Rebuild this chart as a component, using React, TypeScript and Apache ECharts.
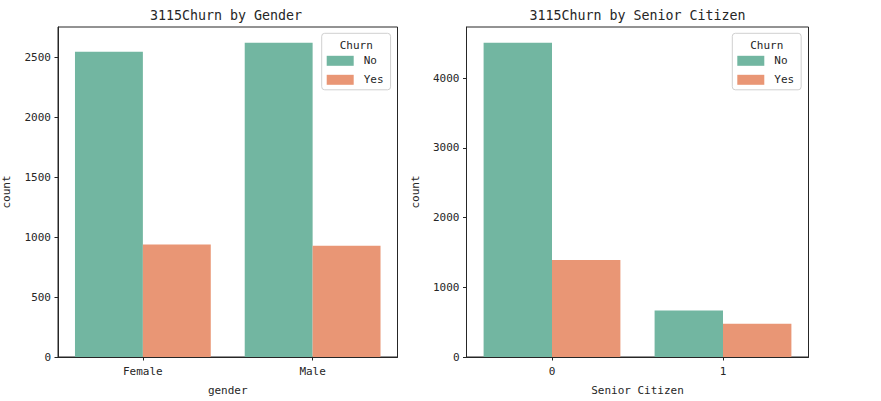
import React, { useEffect, useRef } from "react";
import * as echarts from "echarts";

const genderCats = ["Female", "Male"];
const genderNo = [2549, 2625];
const genderYes = [939, 930];
const seniorCats = ["0", "1"];
const seniorNo = [4508, 666];
const seniorYes = [1393, 476];
const hueNames = ["No", "Yes"];
const titles = ["3115Churn by Gender", "3115Churn by Senior Citizen"];
const xNames = ["gender", "Senior Citizen"];
const yName = "count";
const legendTitle = "Churn";

const FONT = "DejaVu Sans Mono";
const COLORS = ["#72b6a1", "#e99675"];
const AX = "#262626";

export default function App() {
  const ref = useRef<HTMLDivElement>(null);
  useEffect(() => {
    document.body.style.margin = "0";
    const chart = echarts.init(ref.current!, null, { renderer: "svg" });
    const grids = [
      { left: 54.5, top: 27, width: 343, height: 333 },
      { left: 466.5, top: 27, width: 342, height: 333 },
    ];
    const maxes = [
      Math.max(...genderNo, ...genderYes) * 1.05,
      Math.max(...seniorNo, ...seniorYes) * 1.05,
    ];
    const intervals = [500, 1000];
    const cats = [genderCats, seniorCats];
    const vals = [
      [genderNo, genderYes],
      [seniorNo, seniorYes],
    ];
    const legendLefts = [321.7, 732.3];
    const option: any = {
      animation: false,
      grid: grids.map((g) => ({
        ...g,
        show: true,
        borderColor: AX,
        borderWidth: 1,
        backgroundColor: "transparent",
        containLabel: false,
      })),
      xAxis: [0, 1].map((i) => ({
        type: "category",
        gridIndex: i,
        data: cats[i],
        name: xNames[i],
        nameLocation: "middle",
        nameGap: 28,
        nameTextStyle: { fontFamily: FONT, fontSize: 11, color: AX },
        axisLine: { show: true, lineStyle: { color: AX, width: 1 } },
        axisTick: { show: true, alignWithLabel: true, length: 3.5, lineStyle: { color: AX } },
        axisLabel: { fontFamily: FONT, fontSize: 11, color: AX, margin: 9 },
        splitLine: { show: false },
      })),
      yAxis: [0, 1].map((i) => ({
        type: "value",
        gridIndex: i,
        min: 0,
        max: maxes[i],
        interval: intervals[i],
        name: yName,
        nameLocation: "middle",
        nameGap: 46,
        nameRotate: 90,
        nameTextStyle: { fontFamily: FONT, fontSize: 11, color: AX },
        axisLine: { show: true, lineStyle: { color: AX, width: 1 } },
        axisTick: { show: true, length: 3.5, lineStyle: { color: AX } },
        axisLabel: {
          fontFamily: FONT,
          fontSize: 11,
          color: AX,
          margin: 7,
          showMaxLabel: false,
          formatter: (v: number) => String(Math.round(v)),
        },
        splitLine: { show: false },
      })),
      legend: [0, 1].map((i) => ({
        data: hueNames,
        orient: "vertical",
        left: legendLefts[i],
        top: 33.3,
        itemWidth: 27,
        itemHeight: 10,
        itemGap: 6,
        icon: "rect",
        padding: [21, 7, 3.5, 5],
        borderColor: "#d0d0d0",
        borderWidth: 1,
        borderRadius: 3,
        backgroundColor: "rgba(255,255,255,0.8)",
        textStyle: {
          fontFamily: FONT,
          fontSize: 11,
          color: AX,
          lineHeight: 13,
          padding: [0, 0, 0, 5],
        },
        selectedMode: false,
      })),
      graphic: [0, 1].flatMap((i) => [
        {
          type: "text",
          x: grids[i].left + grids[i].width / 2,
          y: 15,
          style: {
            text: titles[i],
            fontFamily: FONT,
            fontSize: 13.3,
            fill: AX,
            textAlign: "center",
            textVerticalAlign: "middle",
          },
        },
        {
          type: "text",
          x: legendLefts[i] + 34.5,
          y: 45,
          z: 100,
          style: {
            text: legendTitle,
            fontFamily: FONT,
            fontSize: 11,
            fill: AX,
            textAlign: "center",
            textVerticalAlign: "middle",
          },
        },
      ]),
      series: [0, 1].flatMap((i) =>
        [0, 1].map((h) => ({
          type: "bar",
          name: hueNames[h],
          xAxisIndex: i,
          yAxisIndex: i,
          data: vals[i][h],
          barGap: "0%",
          barCategoryGap: "20%",
          itemStyle: { color: COLORS[h] },
        }))
      ),
    };
    chart.setOption(option);
    return () => chart.dispose();
  }, []);
  return (
    <div
      ref={ref}
      style={{ position: "absolute", left: 0, top: 0, width: 881, height: 401 }}
    />
  );
}
